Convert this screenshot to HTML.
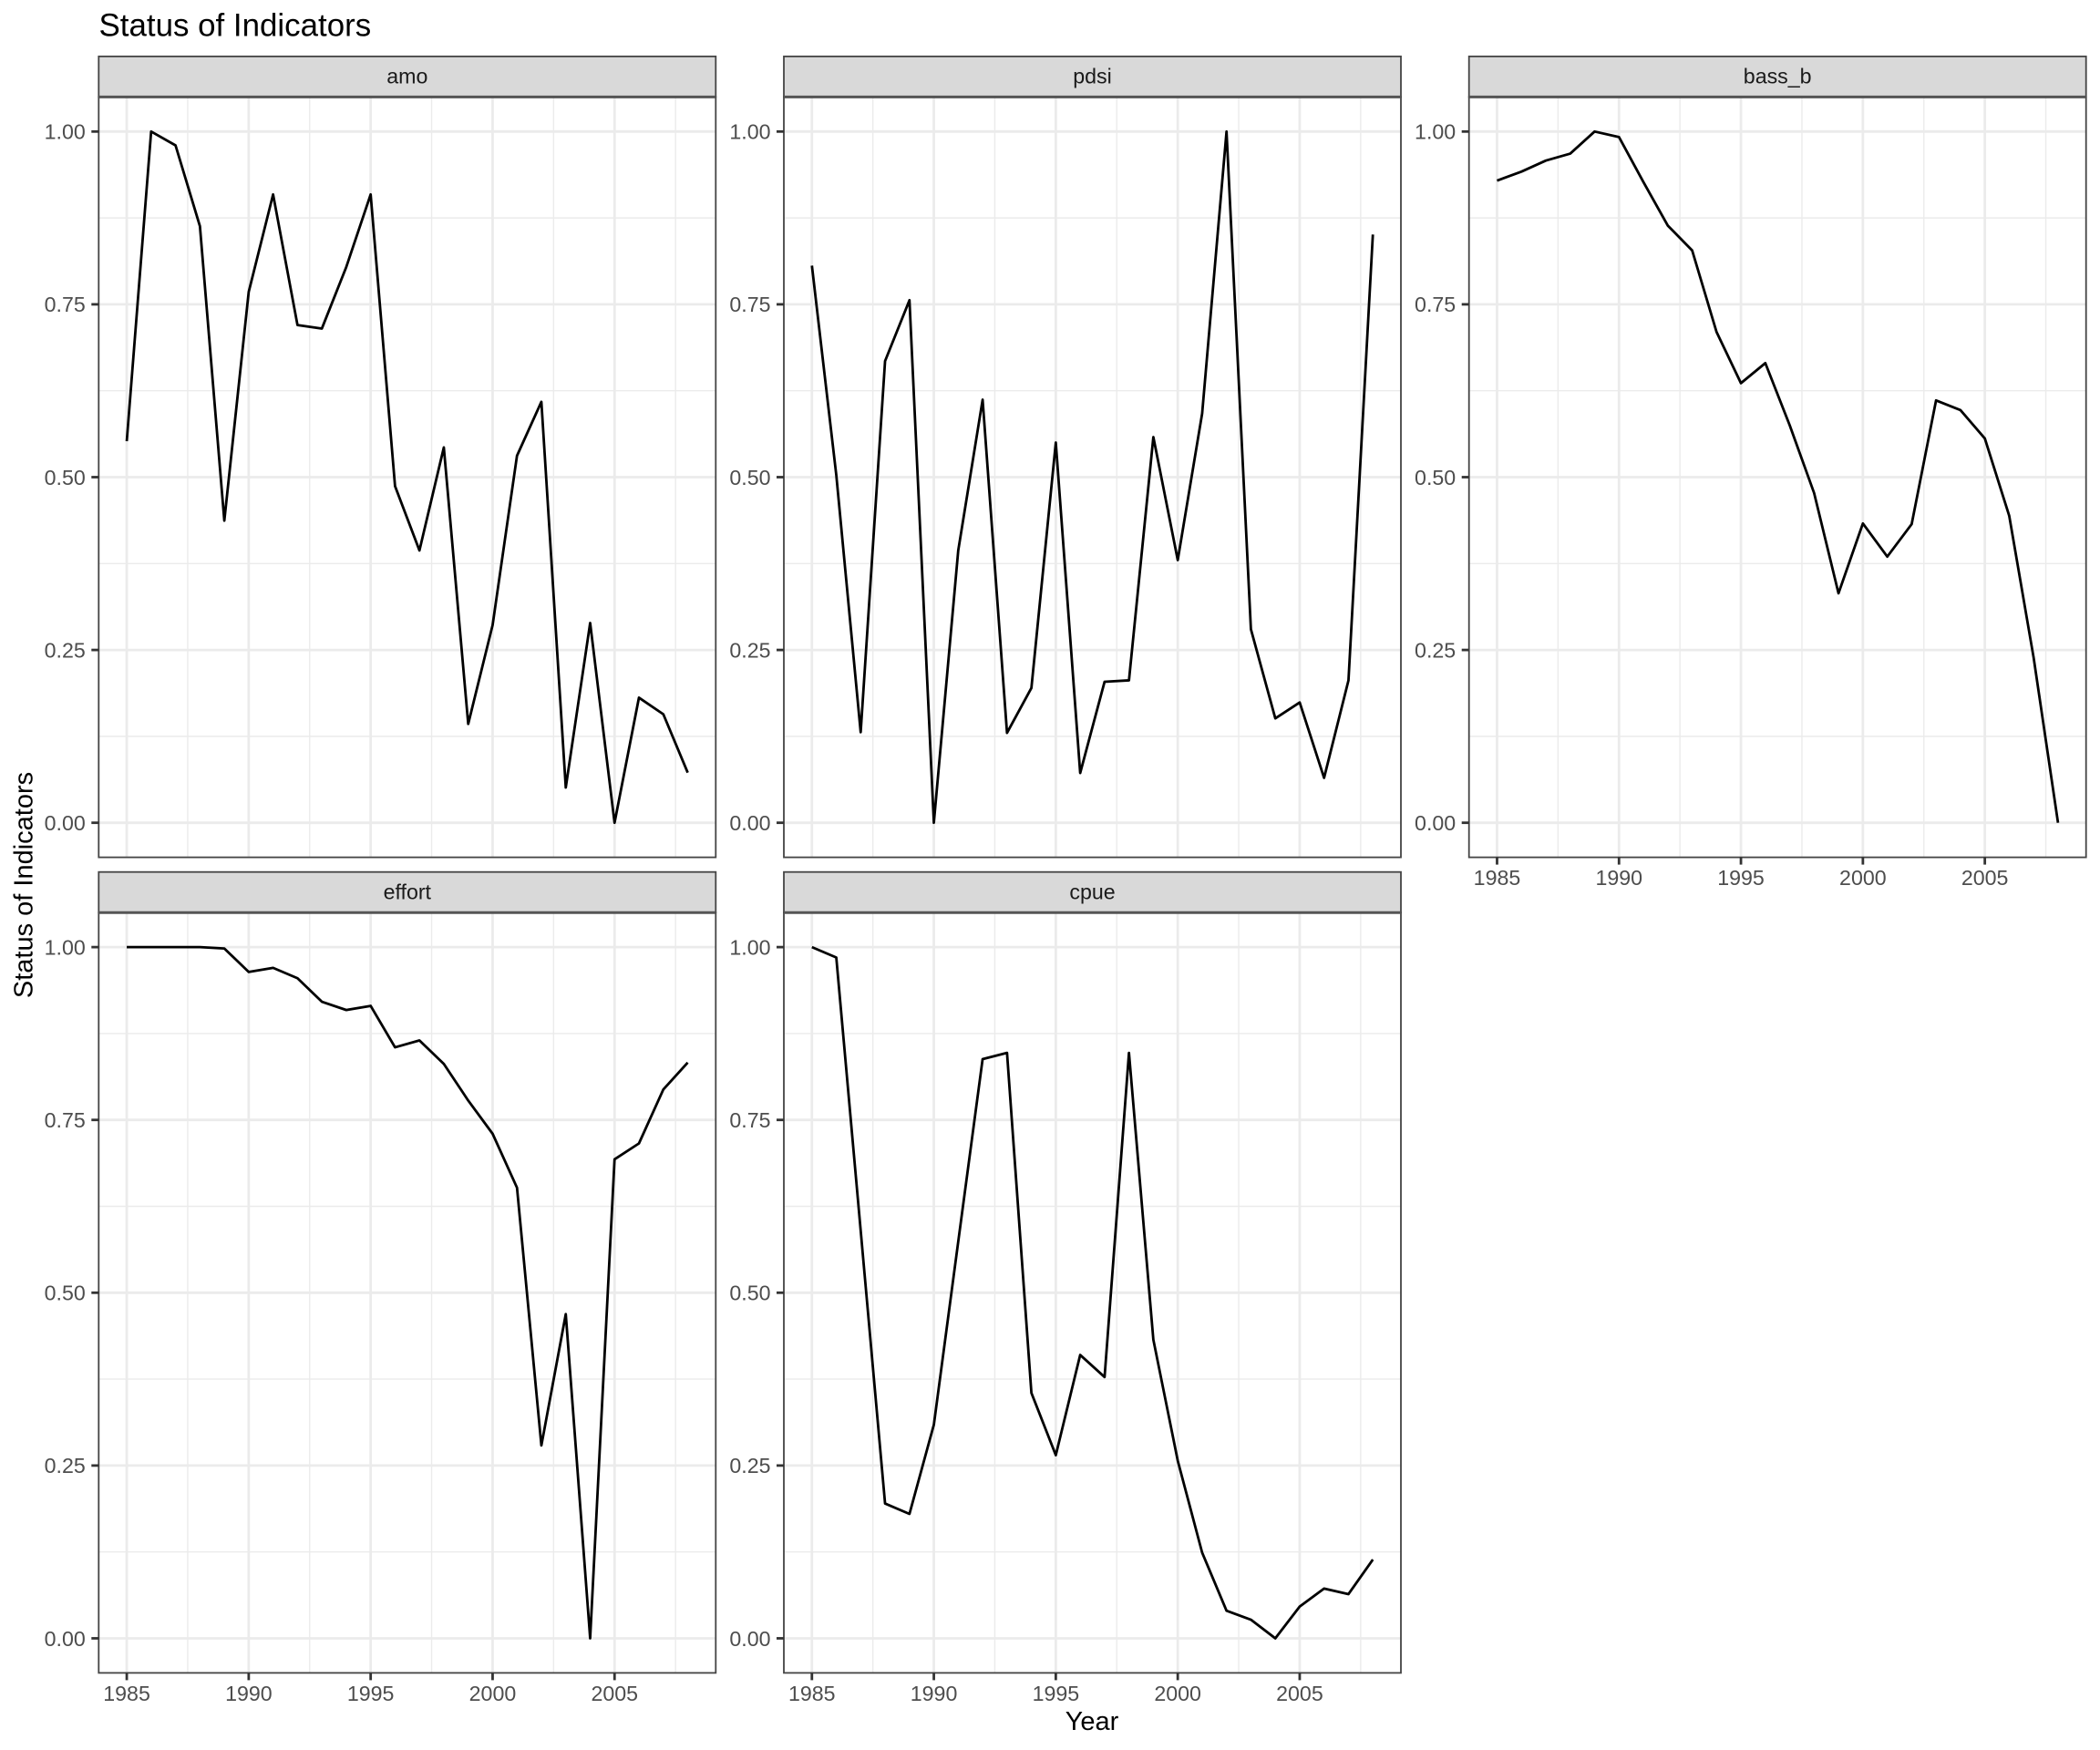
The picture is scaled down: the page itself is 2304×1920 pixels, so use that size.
<!DOCTYPE html>
<html lang="en">
<head>
<meta charset="utf-8">
<title>Status of Indicators</title>
<style>
html,body{margin:0;padding:0;background:#fff;width:2304px;height:1920px;overflow:hidden}
svg{display:block;font-family:"Liberation Sans",Arial,sans-serif}
</style>
</head>
<body>
<svg id="chart" xmlns="http://www.w3.org/2000/svg" width="2304" height="1920" viewBox="0 0 2304 1920">
  <rect x="0" y="0" width="2304" height="1920" fill="#ffffff"/>
  <text x="108.5" y="39.5" font-size="34.9" fill="#000000">Status of Indicators</text>
  <text transform="translate(35.3,971) rotate(-90)" text-anchor="middle" font-size="29" fill="#000000">Status of Indicators</text>
  <text x="1198" y="1898" text-anchor="middle" font-size="29" fill="#000000">Year</text>
</svg>
<script>
const years = [1985,1986,1987,1988,1989,1990,1991,1992,1993,1994,1995,1996,1997,1998,1999,2000,2001,2002,2003,2004,2005,2006,2007,2008];
const amoValues = [0.552,1,0.980,0.863,0.437,0.768,0.909,0.720,0.715,0.804,0.909,0.487,0.394,0.543,0.143,0.286,0.531,0.609,0.051,0.289,0,0.181,0.157,0.0725];
const pdsiValues = [0.806,0.503,0.131,0.668,0.756,0,0.394,0.612,0.130,0.195,0.550,0.072,0.204,0.206,0.558,0.380,0.592,1,0.280,0.151,0.174,0.065,0.206,0.851];
const bassBValues = [0.929,0.942,0.958,0.968,1,0.992,0.927,0.864,0.828,0.710,0.636,0.665,0.575,0.477,0.332,0.433,0.385,0.432,0.611,0.597,0.556,0.444,0.239,0];
const effortValues = [1,1,1,1,0.998,0.964,0.970,0.955,0.921,0.909,0.915,0.855,0.865,0.831,0.778,0.730,0.652,0.279,0.469,0,0.693,0.716,0.794,0.833];
const cpueValues = [1,0.985,0.590,0.195,0.180,0.309,0.574,0.838,0.847,0.355,0.265,0.410,0.378,0.847,0.432,0.257,0.124,0.040,0.027,0,0.046,0.072,0.064,0.114];
const panelNames = ["amo","pdsi","bass_b","effort","cpue"];
const xTickLabels = ["1985","1990","1995","2000","2005"];
const yTickLabels = ["0.00","0.25","0.50","0.75","1.00"];

const panelValues = [amoValues,pdsiValues,bassBValues,effortValues,cpueValues];
const NS = "http://www.w3.org/2000/svg";
const svg = document.getElementById("chart");

const PANEL_W = 677, PANEL_H = 834.2, STRIP_H = 44.5;
function panelLeft(col){ return 108.3 + col * 751.7; }
function panelTop(row){ return 106.4 + row * 894.8; }

const xMin = Math.min(...years), xMax = Math.max(...years);
const xPad = (xMax - xMin) * 0.05;
function xScale(col, year){
  return panelLeft(col) + (year - (xMin - xPad)) / ((xMax - xMin) + 2 * xPad) * PANEL_W;
}
function yScale(row, value){
  return panelTop(row) + PANEL_H - (value + 0.05) / 1.1 * PANEL_H;
}

function make(parent, tag, attrs, text){
  const node = document.createElementNS(NS, tag);
  for (const key in attrs) node.setAttribute(key, attrs[key]);
  if (text !== undefined) node.textContent = text;
  parent.appendChild(node);
  return node;
}

panelNames.forEach(function(name, i){
  const col = i % 3, row = Math.floor(i / 3);
  const left = panelLeft(col), top = panelTop(row), right = left + PANEL_W, bottom = top + PANEL_H;

  const group = make(svg, "g", {});
  
  

  const xMajor = xTickLabels.map(Number);
  const yMajor = yTickLabels.map(Number);

  // minor grid
  xMajor.forEach(function(t, k){
    const next = k + 1 < xMajor.length ? xMajor[k + 1] : t + (t - xMajor[k - 1]);
    const mid = (t + next) / 2;
    const gx = xScale(col, mid);
    const line = make(group, "line", {x1:gx, x2:gx, y1:top, y2:bottom, stroke:"#EBEBEB", "stroke-width":1.4});
    
    
  });
  yMajor.slice(0, -1).forEach(function(t, k){
    const gy = yScale(row, (t + yMajor[k + 1]) / 2);
    const line = make(group, "line", {x1:left, x2:right, y1:gy, y2:gy, stroke:"#EBEBEB", "stroke-width":1.4});
    
    
  });

  // major grid
  xMajor.forEach(function(t){
    const gx = xScale(col, t);
    const line = make(group, "line", {x1:gx, x2:gx, y1:top, y2:bottom, stroke:"#EBEBEB", "stroke-width":2.8});
    
    
  });
  yMajor.forEach(function(t){
    const gy = yScale(row, t);
    const line = make(group, "line", {x1:left, x2:right, y1:gy, y2:gy, stroke:"#EBEBEB", "stroke-width":2.8});
    
    
  });

  // series
  const points = years.map(function(year, k){
    return xScale(col, year).toFixed(2) + "," + yScale(row, panelValues[i][k]).toFixed(2);
  }).join(" ");
  const series = make(group, "polyline", {points:points, fill:"none", stroke:"#000000", "stroke-width":2.8, "stroke-linejoin":"round", "stroke-linecap":"butt"});
  
  

  // panel border
  const border = make(group, "rect", {x:left, y:top, width:PANEL_W, height:PANEL_H, fill:"none", stroke:"#444444", "stroke-width":1.8});
  
  

  // strip
  const strip = make(group, "rect", {x:left, y:top - STRIP_H, width:PANEL_W, height:STRIP_H, fill:"#D9D9D9", stroke:"#444444", "stroke-width":1.8});
  
  
  const stripEdge = make(group, "line", {x1:left, x2:right, y1:top, y2:top, stroke:"#555555", "stroke-width":3});
  
  
  const stripLabel = make(group, "text", {x:left + PANEL_W / 2, y:top - 14.7, "text-anchor":"middle", "font-size":23.2, fill:"#1A1A1A"}, name);
  
  

  // y axis
  yTickLabels.forEach(function(label){
    const ty = yScale(row, Number(label));
    const tick = make(group, "line", {x1:left - 8, x2:left, y1:ty, y2:ty, stroke:"#333333", "stroke-width":2.8});
    
    
    const text = make(group, "text", {x:left - 14.5, y:ty + 8.3, "text-anchor":"end", "font-size":23.2, fill:"#4D4D4D"}, label);
    
    
  });

  // x axis: shown on bottom-most panel of each column
  if (row === 1 || col === 2) {
    xTickLabels.forEach(function(label){
      const tx = xScale(col, Number(label));
      const tick = make(group, "line", {x1:tx, x2:tx, y1:bottom, y2:bottom + 8, stroke:"#333333", "stroke-width":2.8});
      
      
      const text = make(group, "text", {x:tx, y:bottom + 30.5, "text-anchor":"middle", "font-size":23.2, fill:"#4D4D4D"}, label);
      
      
    });
  }
});
</script>
</body>
</html>
